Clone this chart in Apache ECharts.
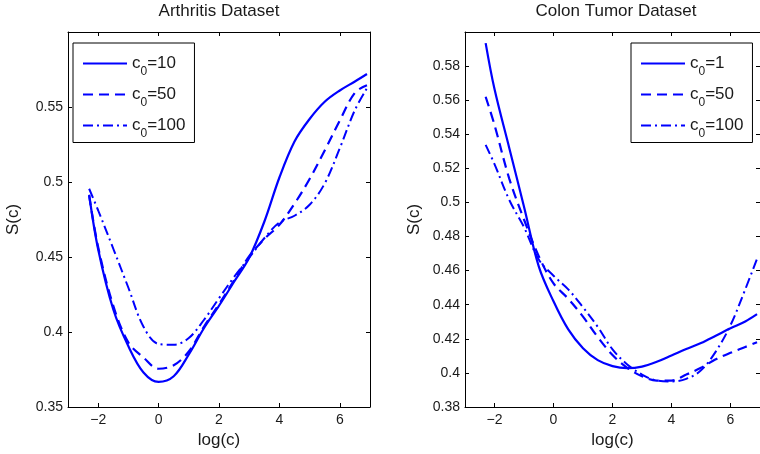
<!DOCTYPE html>
<html><head><meta charset="utf-8">
<script src="https://cdn.jsdelivr.net/npm/echarts@6/dist/echarts.min.js"></script>
<style>html,body{margin:0;padding:0;background:#fff}#c{width:760px;height:454px}</style>
</head><body><div id="c"></div>
<script>
// shared sample positions, log(c)
const logC = [-2.3,-2,-1.5,-1,-0.5,0,0.5,1,1.5,2,2.5,3,3.5,4,4.5,5,5.5,6,6.5,6.9];

// Arthritis dataset
const arthNames = ['c0=10','c0=50','c0=100'];
const arth10  = [0.4915,0.455,0.415,0.3905,0.373,0.3667,0.3705,0.385,0.4025,0.4175,0.4335,0.4495,0.4735,0.503,0.527,0.542,0.5535,0.561,0.567,0.572];
const arth50  = [0.491,0.4565,0.4175,0.393,0.383,0.3755,0.3778,0.387,0.4035,0.4185,0.4345,0.4505,0.462,0.4715,0.4855,0.502,0.521,0.541,0.5595,0.5645];
const arth100 = [0.4955,0.481,0.4555,0.4295,0.4035,0.392,0.3915,0.396,0.408,0.4225,0.4367,0.4495,0.4625,0.473,0.4775,0.4848,0.499,0.5225,0.548,0.5625];

// Colon tumor dataset
const colonNames = ['c0=1','c0=50','c0=100'];
const colon1   = [0.5935,0.5665,0.532,0.4975,0.4625,0.442,0.4255,0.4145,0.4075,0.404,0.4028,0.4037,0.4065,0.4102,0.414,0.4175,0.4218,0.4262,0.4302,0.4345];
const colon50  = [0.562,0.5455,0.514,0.49,0.4685,0.4525,0.4435,0.433,0.421,0.4105,0.403,0.398,0.3955,0.3955,0.399,0.403,0.408,0.4118,0.4152,0.418];
const colon100 = [0.5338,0.5225,0.5015,0.4855,0.4665,0.457,0.449,0.4385,0.427,0.4138,0.405,0.399,0.3955,0.395,0.3965,0.4015,0.4125,0.428,0.449,0.467];

const xTicks = [-2,0,2,4,6];
const arthYTicks = [0.35,0.4,0.45,0.5,0.55];
const colonYTicks = [0.38,0.4,0.42,0.44,0.46,0.48,0.5,0.52,0.54,0.56,0.58];

const FONT = 'Liberation Sans, Arial, Helvetica, sans-serif';
const TXT = '#1a1a1a';
const BLUE = '#0000ff';
const styles = [
  {type:'solid', width:2.2},
  {type:[10,6], width:2.2},
  {type:[10,4,2,4], width:2}
];

function pairs(ys){ return logC.map((x,i)=>[x,ys[i]]); }

function xAx(grid, pos, withLabel){
  return {
    type:'value', gridIndex:grid, position:pos, min:-3, max:7,
    axisLine:{show:true, onZero:false, lineStyle:{color:'#000', width:1}},
    axisTick:{show:true, inside:true, length:4, customValues:xTicks, lineStyle:{color:'#000'}},
    axisLabel:{show:withLabel, customValues:xTicks, margin:6, fontSize:14, fontFamily:FONT, color:TXT,
      formatter:v=>String(v).replace('-','\u2212')},
    splitLine:{show:false},
    name: withLabel ? 'log(c)' : '', nameLocation:'middle', nameGap:25,
    nameTextStyle:{fontSize:17, fontFamily:FONT, color:TXT}
  };
}
function yAx(grid, pos, withLabel, min, max, ticks, gap){
  return {
    type:'value', gridIndex:grid, position:pos, min:min, max:max,
    axisLine:{show:true, onZero:false, lineStyle:{color:'#000', width:1}},
    axisTick:{show:true, inside:true, length:4, customValues:ticks, lineStyle:{color:'#000'}},
    axisLabel:{show:withLabel, customValues:ticks, margin:5, fontSize:14, fontFamily:FONT, color:TXT,
      formatter:v=>String(+v.toFixed(3))},
    splitLine:{show:false},
    name: withLabel ? 'S(c)' : '', nameLocation:'middle', nameGap:gap,
    nameTextStyle:{fontSize:17, fontFamily:FONT, color:TXT}
  };
}
function ser(name, ys, xi, yi, k){
  return {type:'line', name:name, data:pairs(ys), xAxisIndex:xi, yAxisIndex:yi,
    symbol:'none', showSymbol:false, smooth:0.35, clip:true,
    lineStyle:{color:BLUE, type:styles[k].type, width:styles[k].width},
    itemStyle:{color:BLUE}, emphasis:{disabled:true}};
}
function legend(left, names){
  return {
    orient:'vertical', left:left, top:43, data:names,
    padding:[12,9,3,9], itemWidth:44, itemHeight:14, itemGap:8.5,
    borderColor:'#000', borderWidth:1, backgroundColor:'#fff',
    selectedMode:false,
    itemStyle:{color:'rgba(0,0,0,0)', borderWidth:0, opacity:0},
    textStyle:{fontSize:17, fontFamily:FONT, color:TXT,
      rich:{s:{fontSize:12, fontFamily:FONT, color:TXT, padding:[16,0,0,0]}}},
    formatter:n=>'c{s|0}'+n.slice(2)
  };
}

const chart = echarts.init(document.getElementById('c'), null, {renderer:'canvas'});
chart.setOption({
  animation:false,
  backgroundColor:'#fff',
  title:[
    {text:'Arthritis Dataset', left:219, top:3, textAlign:'center', padding:0,
     textStyle:{fontSize:17, fontWeight:'normal', fontFamily:FONT, color:TXT}},
    {text:'Colon Tumor Dataset', left:616, top:3, textAlign:'center', padding:0,
     textStyle:{fontSize:17, fontWeight:'normal', fontFamily:FONT, color:TXT}}
  ],
  grid:[
    {left:68, top:32, width:302, height:375},
    {left:465, top:32, width:302, height:375}
  ],
  xAxis:[xAx(0,'bottom',true), xAx(0,'top',false), xAx(1,'bottom',true), xAx(1,'top',false)],
  yAxis:[
    yAx(0,'left',true,0.35,0.6,arthYTicks,46), yAx(0,'right',false,0.35,0.6,arthYTicks,0),
    yAx(1,'left',true,0.38,0.6,colonYTicks,42), yAx(1,'right',false,0.38,0.6,colonYTicks,0)
  ],
  legend:[legend(73, arthNames), legend(631, colonNames)],
  series:[
    ser(arthNames[0], arth10, 0, 0, 0),
    ser(arthNames[1], arth50, 0, 0, 1),
    ser(arthNames[2], arth100, 0, 0, 2),
    ser(colonNames[0], colon1, 2, 2, 0),
    ser(colonNames[1], colon50, 2, 2, 1),
    ser(colonNames[2], colon100, 2, 2, 2)
  ]
});
</script></body></html>
